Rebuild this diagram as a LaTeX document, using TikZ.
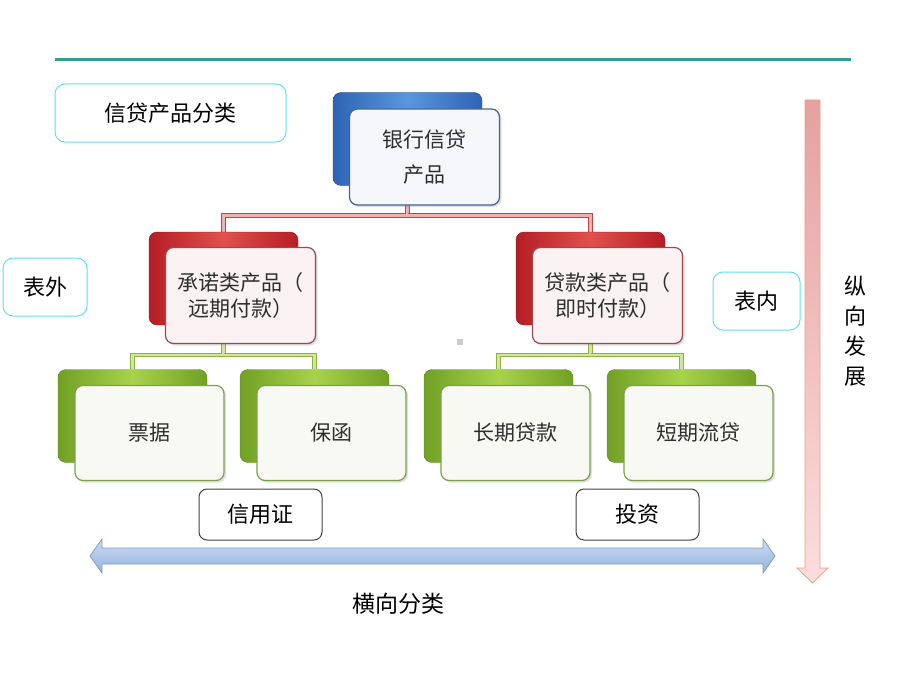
\documentclass[tikz,border=0pt]{standalone}
\usepackage{fontspec}
\setmainfont{Noto Sans CJK SC}
\usetikzlibrary{positioning,shadows}
\definecolor{blueD}{HTML}{2E64B4}
\definecolor{blueL}{HTML}{5A96E0}
\definecolor{blueE}{HTML}{2A5090}
\definecolor{redD}{HTML}{B51E24}
\definecolor{redL}{HTML}{E2504E}
\definecolor{redE}{HTML}{8B1A1A}
\definecolor{greenD}{HTML}{70A024}
\definecolor{greenL}{HTML}{A8D24C}
\definecolor{greenE}{HTML}{5E8A20}
\definecolor{blueF}{HTML}{F5F7FA}
\definecolor{redF}{HTML}{FBF3F3}
\definecolor{greenF}{HTML}{F7F9F2}
\definecolor{blueB}{HTML}{44628E}
\definecolor{redB}{HTML}{9A4A4A}
\definecolor{greenB}{HTML}{7E9E50}
\definecolor{txtgray}{HTML}{2E2E2E}
\definecolor{cyanB}{HTML}{5FDDF8}
\definecolor{tealL}{HTML}{31A090}
\definecolor{hTop}{HTML}{CCDCF2}
\definecolor{hBot}{HTML}{93B3DE}
\definecolor{hEdge}{HTML}{7F9CC4}
\definecolor{vTop}{HTML}{E6A0A0}
\definecolor{vBot}{HTML}{FCDDDD}
\definecolor{vEdge}{HTML}{E8A47E}
\newcommand\boxfont{\fontsize{21pt}{35pt}\selectfont}
\newcommand\labfont{\fontsize{22pt}{30pt}\selectfont}
\pgfdeclarelayer{bg}
\pgfsetlayers{bg,main}
\tikzset{
  backbox/.style={rounded corners=8pt, minimum width=149pt, minimum height=93pt, inner sep=0pt},
  blueback/.style={backbox, draw=blueE, left color=blueD, right color=blueD, middle color=blueL},
  redback/.style={backbox, draw=redE, left color=redD, right color=redD, middle color=redL},
  greenback/.style={backbox, draw=greenE, left color=greenD, right color=greenD, middle color=greenL},
  frontbox/.style={rounded corners=8pt, line width=1.2pt, minimum width=150pt, minimum height=96pt, inner sep=2pt, align=center, font=\boxfont, text=txtgray, drop shadow={opacity=0.25, shadow xshift=2pt, shadow yshift=-2pt}},
  bluefront/.style={frontbox, draw=blueB, fill=blueF},
  redfront/.style={frontbox, draw=redB, fill=redF, font=\fontsize{21pt}{26pt}\selectfont},
  greenfront/.style={frontbox, draw=greenB, fill=greenF, minimum width=149pt, minimum height=95pt},
  redlink/.style={draw=redL!85!black, double=redL!45, double distance=2.5pt, line width=1pt},
  greenlink/.style={draw=greenL!85!black, double=greenL!55, double distance=2.5pt, line width=1pt},
  cyanlab/.style={draw=cyanB, line width=1pt, rounded corners=10pt, font=\labfont, inner sep=0pt},
  graylab/.style={draw=black!75, line width=1pt, rounded corners=8pt, font=\labfont, inner sep=0pt, minimum width=123pt, minimum height=51pt}
}

\begin{document}
\begin{tikzpicture}[x=1pt,y=-1pt]
\useasboundingbox (0,0) rectangle (920,690);
\draw[tealL, line width=3pt] (55,60) -- (851,60);
% tree boxes
\node[blueback] (b0) at (407.5,139) {};
\node[bluefront] (f0) at ([shift={(17pt,-18pt)}]b0.center) {银行信贷\\产品};
\node[redback] (bL) at (223.5,278.5) {};
\node[redfront] (fL) at ([shift={(17pt,-17pt)}]bL.center) {承诺类产品（\\远期付款）};
\node[redback] (bR) at (590.5,278.5) {};
\node[redfront] (fR) at ([shift={(17pt,-17pt)}]bR.center) {贷款类产品（\\即时付款）};
\node[greenback] (g1) at (132.5,416) {};
\node[greenfront] (h1) at ([shift={(17pt,-17pt)}]g1.center) {票据};
\node[greenback] (g2) at (314.5,416) {};
\node[greenfront] (h2) at ([shift={(17pt,-17pt)}]g2.center) {保函};
\node[greenback] (g3) at (498.5,416) {};
\node[greenfront] (h3) at ([shift={(17pt,-17pt)}]g3.center) {长期贷款};
\node[greenback] (g4) at (681.5,416) {};
\node[greenfront] (h4) at ([shift={(17pt,-17pt)}]g4.center) {短期流贷};
% links
\begin{pgfonlayer}{bg}
\draw[redlink] (b0.south) -- ++(0,30) coordinate (j0) -| (bL.north);
\draw[redlink] (j0) -| (bR.north);
\draw[greenlink] (bL.south) -- ++(0,30) coordinate (j1) -| (g1.north);
\draw[greenlink] (j1) -| (g2.north);
\draw[greenlink] (bR.south) -- ++(0,30) coordinate (j2) -| (g3.north);
\draw[greenlink] (j2) -| (g4.north);
\end{pgfonlayer}
% labels
\node[cyanlab, minimum width=231pt, minimum height=58pt] (kind) at (170.5,113) {信贷产品分类};
\node[cyanlab, minimum width=84pt, minimum height=58pt] (outer) at (45,287) {表外};
\node[cyanlab, minimum width=87pt, minimum height=58pt] (inner) at (756.5,301) {表内};
\node[graylab] (credit) at (260.5,514.5) {信用证};
\node[graylab] (invest) at (637.5,514.5) {投资};
\node[font=\fontsize{23pt}{30pt}\selectfont] (horiz) at (398,604) {横向分类};
\node[align=center, text width=24pt, font=\fontsize{22pt}{30pt}\selectfont] (vert) at (855,331) {纵\\向\\发\\展};
% arrows
\draw[draw=hEdge, line width=0.8pt, top color=hTop, bottom color=hBot]
  (90,556) -- (102,539) -- (102,548) -- (763,548) -- (763,539) -- (775,556)
  -- (763,573) -- (763,564) -- (102,564) -- (102,573) -- cycle;
\draw[draw=vEdge, line width=0.8pt, top color=vTop, bottom color=vBot]
  (805,100) -- (820,100) -- (820,568) -- (828,568) -- (812.5,583) -- (797,568) -- (805,568) -- cycle;
\fill[black!20] (457,339) rectangle (463,345);
\end{tikzpicture}
\end{document}
